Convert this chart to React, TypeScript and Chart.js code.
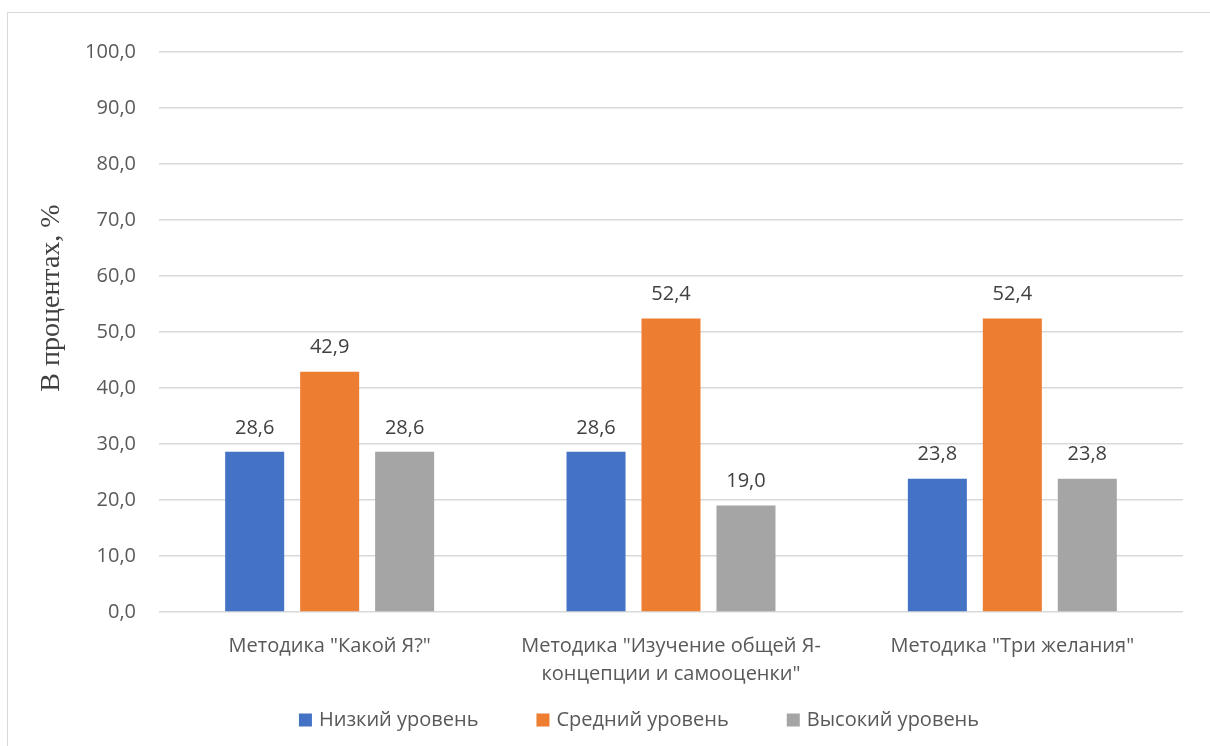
import React, { useEffect, useRef } from 'react';
import { Chart, registerables } from 'chart.js';

Chart.register(...registerables);

const categories: string[][] = [
  ['Методика "Какой Я?"'],
  ['Методика "Изучение общей Я-', 'концепции и самооценки"'],
  ['Методика "Три желания"'],
];
const seriesNames = ['Низкий уровень', 'Средний уровень', 'Высокий уровень'];
const lowValues = [28.6, 28.6, 23.8];
const midValues = [42.9, 52.4, 52.4];
const highValues = [28.6, 19.0, 23.8];
const seriesColors = ['#4472C4', '#ED7D31', '#A5A5A5'];
const yMin = 0;
const yMax = 100;
const yStep = 10;
const yTitle = 'В процентах, %';

const SANS = '"Open Sans", "Noto Sans", sans-serif';
const fmt = (v: number) => v.toFixed(1).replace('.', ',');

const dataLabelPlugin = {
  id: 'dataLabels',
  afterDatasetsDraw(chart: any) {
    const ctx = chart.ctx;
    ctx.save();
    ctx.font = `20px ${SANS}`;
    ctx.fillStyle = '#404040';
    ctx.textAlign = 'center';
    ctx.textBaseline = 'middle';
    chart.data.datasets.forEach((ds: any, i: number) => {
      const meta = chart.getDatasetMeta(i);
      meta.data.forEach((bar: any, j: number) => {
        ctx.fillText(fmt(ds.data[j]), bar.x, bar.y - 24);
      });
    });
    ctx.restore();
  },
};

const yTitlePlugin = {
  id: 'yTitle',
  afterDraw(chart: any) {
    const ctx = chart.ctx;
    ctx.save();
    ctx.translate(52, 298);
    ctx.rotate(-Math.PI / 2);
    ctx.font = `28px "Liberation Serif", "DejaVu Serif", serif`;
    ctx.fillStyle = '#404040';
    ctx.textAlign = 'center';
    ctx.textBaseline = 'middle';
    ctx.fillText(yTitle, 0, 0);
    ctx.restore();
  },
};

// Legend drawn from the datasets (labels + colours), centred under the frame.
const bottomLegendPlugin = {
  id: 'bottomLegend',
  afterDraw(chart: any) {
    const ctx = chart.ctx;
    const box = 13;
    const textGap = 7;
    const itemGap = 58;
    const centerX = 639;
    const centerY = 720;
    ctx.save();
    ctx.font = `20px ${SANS}`;
    const items = chart.data.datasets.map((ds: any) => ({
      text: ds.label as string,
      color: ds.backgroundColor as string,
      w: ctx.measureText(ds.label).width,
    }));
    const total =
      items.reduce((s: number, it: any) => s + box + textGap + it.w, 0) + itemGap * (items.length - 1);
    let x = centerX - total / 2;
    ctx.textAlign = 'left';
    ctx.textBaseline = 'middle';
    items.forEach((it: any) => {
      ctx.fillStyle = it.color;
      ctx.fillRect(x, centerY - box / 2, box, box);
      ctx.fillStyle = '#595959';
      ctx.fillText(it.text, x + box + textGap, centerY);
      x += box + textGap + it.w + itemGap;
    });
    ctx.restore();
  },
};

export default function App() {
  const ref = useRef<HTMLCanvasElement>(null);

  useEffect(() => {
    if (!ref.current) return;
    const values = [lowValues, midValues, highValues];
    const chart = new Chart(ref.current, {
      type: 'bar',
      data: {
        labels: categories,
        datasets: seriesNames.map((name, i) => ({
          label: name,
          data: values[i],
          backgroundColor: seriesColors[i],
          borderWidth: 0,
          categoryPercentage: 0.659,
          barPercentage: 0.787,
        })),
      },
      options: {
        animation: false,
        responsive: false,
        maintainAspectRatio: false,
        devicePixelRatio: 1,
        layout: { padding: { left: 0, right: 27, top: 52, bottom: 56 } },
        plugins: {
          legend: { display: false },
          tooltip: { enabled: false },
        },
        scales: {
          x: {
            grid: { display: false },
            border: { display: false },
            ticks: {
              color: '#595959',
              font: { family: SANS, size: 20, lineHeight: 1.4 },
              padding: 12,
              maxRotation: 0,
              autoSkip: false,
            },
            afterFit: (scale: any) => {
              scale.height = 78;
            },
          },
          y: {
            min: yMin,
            max: yMax,
            border: { display: false },
            grid: { color: '#D9D9D9', lineWidth: 1.5, drawTicks: false },
            ticks: {
              stepSize: yStep,
              color: '#595959',
              font: { family: SANS, size: 20 },
              padding: 23,
              callback: (v: any) => fmt(Number(v)),
            },
            afterFit: (scale: any) => {
              scale.width = 159;
            },
          },
        },
      },
      plugins: [dataLabelPlugin, yTitlePlugin, bottomLegendPlugin],
    });
    return () => chart.destroy();
  }, []);

  return (
    <div style={{ position: 'fixed', left: 0, top: 0, width: 1210, height: 746, overflow: 'hidden', background: '#fff' }}>
      <div
        style={{
          position: 'absolute',
          left: 7,
          top: 12,
          width: 1210,
          height: 746,
          borderLeft: '1px solid #D9D9D9',
          borderTop: '1px solid #D9D9D9',
        }}
      />
      <canvas ref={ref} width={1210} height={746} style={{ position: 'absolute', left: 0, top: 0, width: 1210, height: 746 }} />
    </div>
  );
}
